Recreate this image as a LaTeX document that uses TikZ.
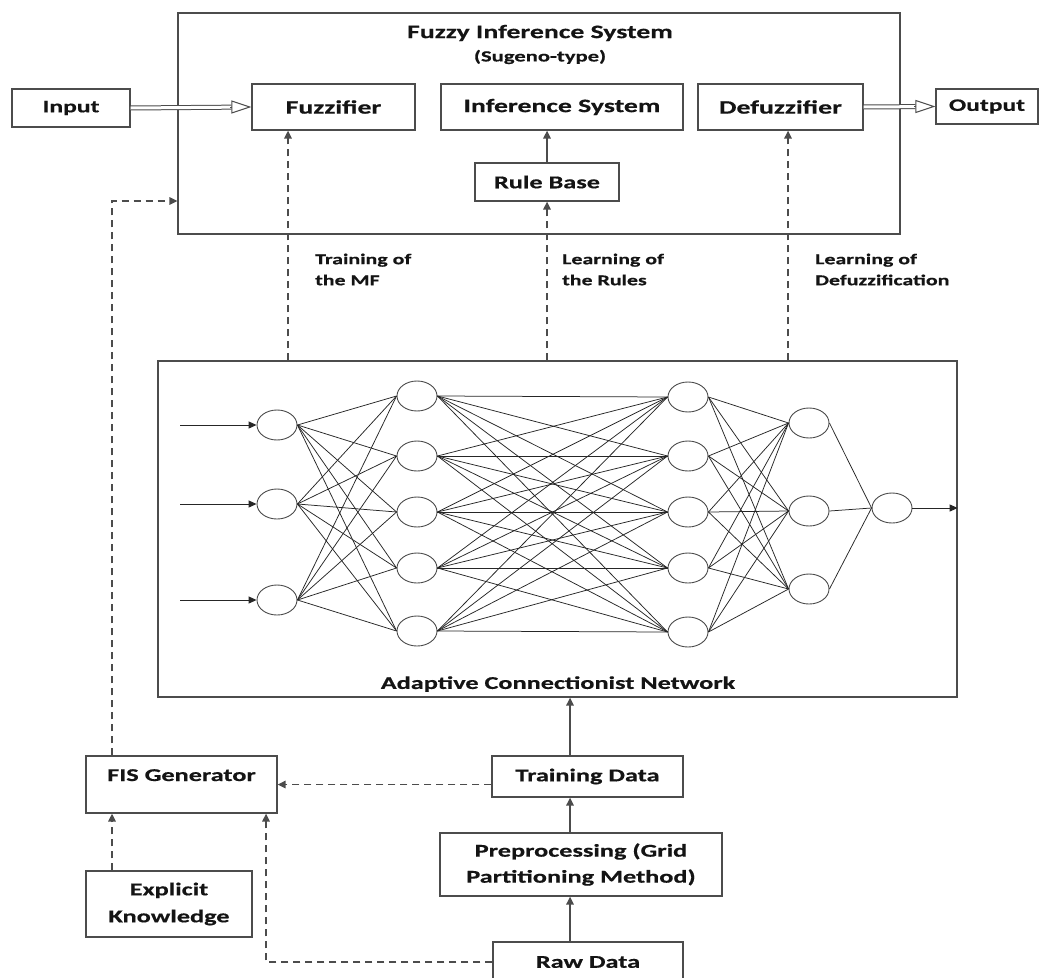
\documentclass[tikz,border=0pt]{standalone}
\usepackage{fontspec}
\setmainfont{Carlito}[FakeStretch=1.46, BoldFeatures={FakeBold=0.5}]
\usetikzlibrary{arrows.meta,shapes.geometric,calc}
\definecolor{ln}{gray}{0.3}
\definecolor{tx}{gray}{0.08}
\begin{document}
\begin{tikzpicture}[x=1pt,y=-1pt,
  box/.style={draw=ln, line width=1.3pt, inner sep=0pt, text=tx, align=center,
    font=\bfseries\fontsize{18}{27}\selectfont},
  bigbox/.style={box, font=\bfseries\fontsize{19}{22}\selectfont},
  lbl/.style={text=tx, align=left, inner sep=0pt, font=\bfseries\fontsize{15}{21}\selectfont},
  neuron/.style={ellipse, draw=ln, line width=0.9pt, minimum width=40pt, minimum height=30pt, inner sep=0pt},
  wire/.style={draw=black!85, line width=0.75pt},
  arr/.style={draw=black!70, line width=1.5pt, -{Triangle[length=8pt,width=7.5pt]}},
  dasharr/.style={arr, dash pattern=on 7pt off 5pt},
  dblline/.style={draw=ln, line width=1pt, double=white, double distance=3pt},
  opentip/.style={draw=ln, line width=1pt, -{Triangle[open,length=20pt,width=13pt]}},
  inarr/.style={draw=black!85, line width=1pt, -{Triangle[length=8pt,width=7pt]}}
]
\useasboundingbox[fill=white] (0,0) rectangle (1043,977);

% ---- Fuzzy inference system ----
\node[box, minimum width=722pt, minimum height=221pt] (fis) at (539,123.5) {};
\node[text=tx, font=\bfseries\fontsize{19}{22}\selectfont] (ttl) at (540,33) {Fuzzy Inference System};
\node[text=tx, font=\bfseries\fontsize{15.5}{18}\selectfont] (sug) at (540,57) {(Sugeno-type)};

\node[box, minimum width=118pt, minimum height=38pt, font=\bfseries\fontsize{17.5}{21}\selectfont] (inp) at (71,108) {Input};
\node[bigbox, minimum width=163pt, minimum height=46pt] (fuz) at (333.5,107) {Fuzzifier};
\node[bigbox, minimum width=242pt, minimum height=46pt] (inf) at (562,107) {Inference System};
\node[bigbox, minimum width=165pt, minimum height=46pt] (def) at (780.5,107) {Defuzzifier};
\node[box, minimum width=102pt, minimum height=35pt, font=\bfseries\fontsize{17.5}{21}\selectfont] (out) at (987,106.5) {Output};
\node[box, minimum width=144pt, minimum height=38pt] (rb) at (547,182) {Rule Base};

% double arrows
\draw[dblline, shorten >=20pt] (inp.east) -- (fuz.west);
\draw[opentip] ([xshift=-21pt]fuz.west) -- (fuz.west);
\draw[dblline, shorten >=20pt] (def.east) -- (out.west);
\draw[opentip] ([xshift=-21pt]out.west) -- (out.west);

\draw[arr] (rb.north) -- (rb.north |- inf.south);

% ---- network ----
\node[box, minimum width=799pt, minimum height=336pt] (acn) at (557.5,529) {};
\node[text=tx, font=\bfseries\fontsize{18}{21}\selectfont] (acnt) at (558,684) {Adaptive Connectionist Network};

\coordinate (c1) at (288,0);
\coordinate (c3) at (788,0);
\draw[dasharr] (acn.north -| c1) -- (fuz.south -| c1);
\draw[dasharr] (acn.north -| rb.south) -- (rb.south);
\draw[dasharr] (acn.north -| c3) -- (def.south -| c3);

\node[lbl, anchor=west] (lab1) at (315,269.5) {Training of\\the MF};
\node[lbl, anchor=west] (lab2) at (562,269.5) {Learning of\\the Rules};
\node[lbl, anchor=west] (lab3) at (815,269.5) {Learning of\\Defuzzification};

% neurons
\foreach \i/\y in {1/425,2/504,3/600} \node[neuron] (a\i) at (277,\y) {};
\foreach \i/\y in {1/396,2/456,3/512,4/568,5/631} \node[neuron] (b\i) at (417,\y) {};
\foreach \i/\y in {1/397,2/456,3/512,4/568,5/632} \node[neuron] (c\i) at (688,\y) {};
\foreach \i/\y in {1/423,2/511,3/589} \node[neuron] (d\i) at (809,\y) {};
\node[neuron] (e1) at (892,508) {};

\foreach \i in {1,2,3} \foreach \j in {1,...,5} \draw[wire] (a\i.east) -- (b\j.west);
\foreach \i in {1,...,5} \foreach \j in {1,...,5} \draw[wire] (b\i.east) -- (c\j.west);
\foreach \i in {1,...,5} \foreach \j in {1,2,3} \draw[wire] (c\i.east) -- (d\j.west);
\foreach \i in {1,2,3} \draw[wire] (d\i.east) -- (e1.west);

\foreach \i in {1,2,3} {
  \coordinate (s\i) at (180,0);
  \draw[inarr] (a\i.west -| s\i) -- (a\i.west);
}
\draw[inarr] (e1.east) -- (e1.east -| acn.east);

% ---- bottom part ----
\node[box, minimum width=191pt, minimum height=57pt, text height=13pt, text depth=20pt] (fisg) at (181.5,784.5) {FIS Generator};
\node[box, minimum width=166pt, minimum height=66pt] (ek) at (169,904) {Explicit\\Knowledge};
\node[box, minimum width=191pt, minimum height=41pt] (td) at (587.5,776.5) {Training Data};
\node[box, minimum width=282pt, minimum height=63pt, font=\bfseries\fontsize{18}{26}\selectfont] (pp) at (581,864.5) {Preprocessing (Grid\\Partitioning Method)};
\node[box, minimum width=190pt, minimum height=40pt] (rd) at (588,962) {Raw Data};

\coordinate (k1) at (112,201);
\coordinate (k2) at (266,0);
\coordinate (k3) at (570,0);

\draw[dasharr] (fisg.north -| k1) |- (k1 -| fis.west);
\draw[dasharr] (ek.north -| k1) -- (fisg.south -| k1);
\draw[dasharr] (td.west |- fisg.east) -- (fisg.east);
\draw[dasharr] (rd.west) -| (fisg.south -| k2);

\draw[arr] (rd.north -| k3) -- (pp.south -| k3);
\draw[arr] (pp.north -| k3) -- (td.south -| k3);
\draw[arr] (td.north -| k3) -- (acn.south -| k3);
\end{tikzpicture}
\end{document}
